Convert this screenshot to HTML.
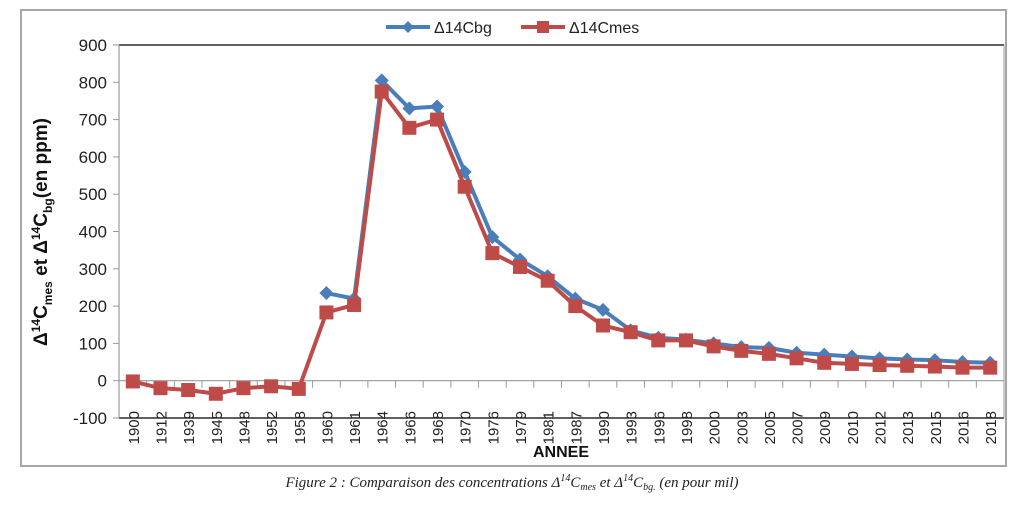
<!DOCTYPE html>
<html><head><meta charset="utf-8"><style>
body{margin:0;background:#fff;width:1024px;height:503px;overflow:hidden}
svg text{font-family:"Liberation Sans",sans-serif}
</style></head><body>
<svg width="1024" height="503">
<rect x="21" y="10" width="985" height="456" fill="#fff" stroke="#a6a6a6" stroke-width="2"/>
<g id="grid"></g>
<g id="axes"></g>
<g id="series"></g>
<g>
<line x1="386" y1="27" x2="430" y2="27" stroke="#4a7ebb" stroke-width="4"/>
<path d="M408 21 L414 27 L408 33 L402 27Z" fill="#4a7ebb"/>
<text x="434" y="33" font-size="16" fill="#222">Δ14Cbg</text>
<line x1="521" y1="27" x2="565" y2="27" stroke="#be4b48" stroke-width="4"/>
<rect x="537" y="21" width="12" height="12" fill="#be4b48"/>
<text x="569" y="33" font-size="16" fill="#222">Δ14Cmes</text>
</g>
<text transform="translate(47,232) rotate(-90)" text-anchor="middle" font-size="19" font-weight="bold" fill="#111">Δ<tspan font-size="12" dy="-7">14</tspan><tspan dy="7">C</tspan><tspan font-size="12" dy="5">mes</tspan><tspan dy="-5"> et Δ</tspan><tspan font-size="12" dy="-7">14</tspan><tspan dy="7">C</tspan><tspan font-size="12" dy="5">bg</tspan><tspan dy="-5">(en ppm)</tspan></text>
<text x="561" y="457" text-anchor="middle" font-size="16" font-weight="bold" fill="#111">ANNEE</text>
<text x="512" y="487" text-anchor="middle" font-size="15" font-style="italic" fill="#222" style="font-family:'Liberation Serif',serif">Figure 2 : Comparaison des concentrations Δ<tspan font-size="10" dy="-6">14</tspan><tspan dy="6">C</tspan><tspan font-size="10" dy="3">mes</tspan><tspan dy="-3"> et Δ</tspan><tspan font-size="10" dy="-6">14</tspan><tspan dy="6">C</tspan><tspan font-size="10" dy="3">bg.</tspan><tspan dy="-3"> (en pour mil)</tspan></text>
</svg>
<script>
const categories=["1900","1912","1939","1945","1948","1952","1958","1960","1961","1964","1966","1968","1970","1976","1979","1981","1987","1990","1993","1996","1998","2000","2003","2005","2007","2009","2010","2012","2013","2015","2016","2018"];
const bgValues=[null,null,null,null,null,null,null,235,220,805,730,735,560,385,325,280,220,190,135,115,110,100,90,88,75,70,65,60,57,55,50,48];
const mesValues=[-2,-20,-25,-35,-20,-15,-22,183,203,775,678,700,520,342,305,268,200,148,130,108,108,92,80,72,60,48,45,42,40,38,35,35];
const yTicks=[900,800,700,600,500,400,300,200,100,0,-100];
const NS="http://www.w3.org/2000/svg";
const L=119,R=1004,T=45,B=418,yMin=-100,yMax=900;
const step=(R-L)/categories.length;
const xs=i=>L+step*(i+0.5);
const ys=v=>B-(v-yMin)/(yMax-yMin)*(B-T);
function mk(tag,attrs,parent){const e=document.createElementNS(NS,tag);for(const k in attrs)e.setAttribute(k,attrs[k]);document.getElementById(parent).appendChild(e);return e;}
// axes
let e=mk('line',{x1:L,y1:T,x2:R,y2:T,stroke:'#000','stroke-width':1.2},'axes');


e=mk('line',{x1:L,y1:ys(-100),x2:R,y2:ys(-100),stroke:'#000','stroke-width':1.2},'axes');


e=mk('line',{x1:R,y1:T,x2:R,y2:B,stroke:'#999','stroke-width':1},'axes');


e=mk('line',{x1:L,y1:T,x2:L,y2:B,stroke:'#999','stroke-width':1.2},'axes');


e=mk('line',{x1:L,y1:ys(0),x2:R,y2:ys(0),stroke:'#999','stroke-width':1.2},'axes');


yTicks.forEach(v=>{
 const t=mk('line',{x1:L-6,y1:ys(v),x2:L,y2:ys(v),stroke:'#999'},'axes');
 
 
 const tx=mk('text',{x:L-12,y:ys(v)+6,'text-anchor':'end','font-size':17,fill:'#222'},'axes');
 tx.textContent=v;
 
 
});
for(let i=0;i<=categories.length;i++){
 const t=mk('line',{x1:L+step*i,y1:ys(0),x2:L+step*i,y2:ys(0)+7,stroke:'#999'},'axes');
 
 
}
categories.forEach((c,i)=>{
 const tx=mk('text',{transform:`translate(${xs(i)+6},${ys(0)+47}) rotate(-90)`,'text-anchor':'middle','font-size':15,fill:'#222'},'axes');
 tx.textContent=c;
 
 
});
function series(vals,color,name,marker){
 let d='';let pen=false;
 vals.forEach((v,i)=>{if(v===null){pen=false;return;}d+=(pen?'L':'M')+xs(i)+' '+ys(v)+' ';pen=true;});
 const p=mk('path',{d:d,fill:'none',stroke:color,'stroke-width':4,'stroke-linejoin':'round'},'series');
 
 
 vals.forEach((v,i)=>{if(v===null)return;const x=xs(i),y=ys(v);let m;
  if(marker==='d')m=mk('path',{d:`M${x} ${y-7}L${x+7} ${y}L${x} ${y+7}L${x-7} ${y}Z`,fill:color},'series');
  else m=mk('rect',{x:x-7,y:y-7,width:14,height:14,fill:color},'series');
  
  
 });
}
series(bgValues,'#4a7ebb','bg','d');
series(mesValues,'#be4b48','mes','s');
</script>
</body></html>
